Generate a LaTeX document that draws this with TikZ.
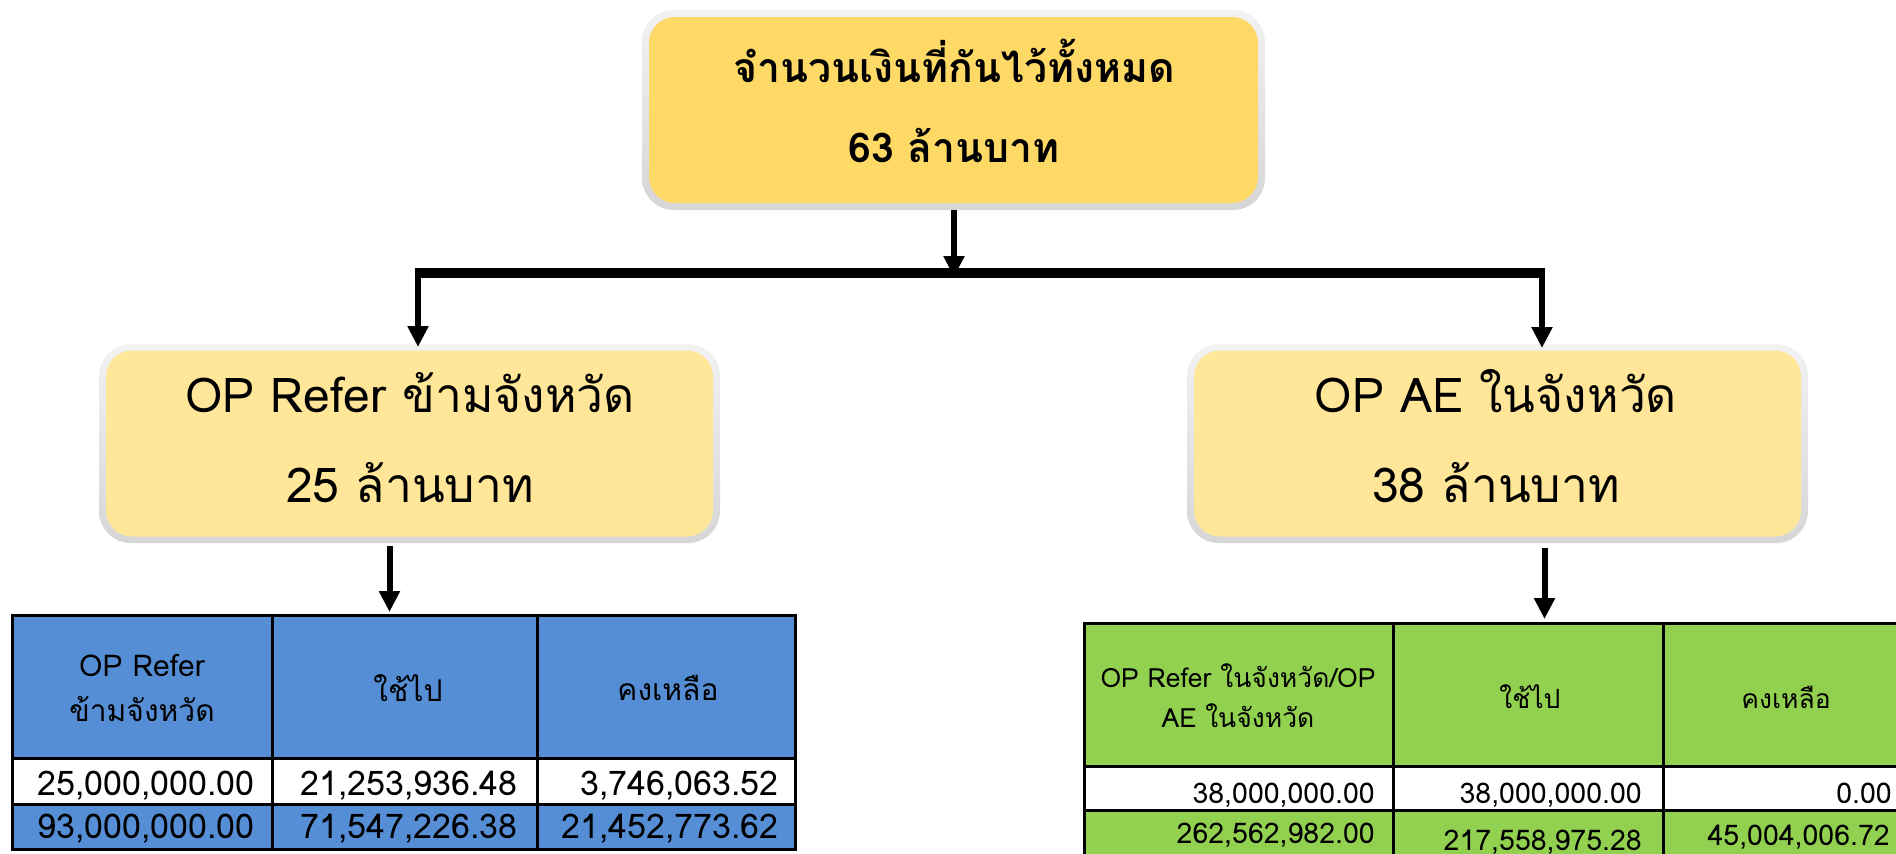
\documentclass[tikz,border=0pt]{standalone}
\usepackage{fontspec}
\setmainfont[Script=Thai]{Loma}
\usetikzlibrary{arrows.meta}
\definecolor{goldA}{HTML}{FFD966}
\definecolor{goldB}{HTML}{FFE699}
\definecolor{tblue}{HTML}{558ED5}
\definecolor{tgreen}{HTML}{92D050}
\definecolor{glowT}{HTML}{F2F2F2}
\definecolor{glowB}{HTML}{D6D6D6}
\tikzset{
  glowbox/.style={rounded corners=32pt, inner sep=0pt, outer sep=0pt, top color=glowT, bottom color=glowB},
  fillbox/.style={rounded corners=26pt, inner sep=0pt, outer sep=0pt},
  arr/.style={line width=6pt, -{Triangle[width=20pt,length=21pt]}},
  bus/.style={line width=10pt},
  grid/.style={line width=3pt, line cap=rect},
  bigtxt/.style={anchor=base, inner sep=0pt, font=\fontsize{48}{52}\selectfont},
  toptxt/.style={anchor=base, inner sep=0pt, font=\bfseries\fontsize{41}{44}\selectfont},
  lhead/.style={align=center, inner sep=0pt, font=\fontsize{30}{45}\selectfont},
  rhead/.style={align=center, inner sep=0pt, font=\fontsize{26.5}{40}\selectfont},
  lnum/.style={anchor=base east, inner sep=0pt, font=\fontsize{34}{36}\selectfont},
  rnum/.style={anchor=base east, inner sep=0pt, font=\fontsize{28.5}{32}\selectfont},
}
\begin{document}
\begin{tikzpicture}[x=1pt,y=-1pt]
\useasboundingbox (0,0) rectangle (1896,854);
\fill[white] (0,0) rectangle (1896,854);
% boxes
\node[glowbox, minimum width=623pt, minimum height=200pt] (top) at (953.5,110) {};
\node[fillbox, fill=goldA, minimum width=609pt, minimum height=186pt] (topin) at (top.center) {};
\node[glowbox, minimum width=621pt, minimum height=199pt] (lbox) at (409.5,443.5) {};
\node[fillbox, fill=goldB, minimum width=607pt, minimum height=186pt] (lboxin) at (lbox.center) {};
\node[glowbox, minimum width=621pt, minimum height=199pt] (rbox) at (1497.5,443.5) {};
\node[fillbox, fill=goldB, minimum width=607pt, minimum height=186pt] (rboxin) at (rbox.center) {};
\node[toptxt] (t1) at (954,82) {จำนวนเงินที่กันไว้ทั้งหมด};
\node[toptxt] (t2) at (954,162) {63 ล้านบาท};
\node[bigtxt] (l1) at (410,412) {OP Refer ข้ามจังหวัด};
\node[bigtxt] (l2) at (410,502) {25 ล้านบาท};
\node[bigtxt] (r1) at (1496,412) {OP AE ในจังหวัด};
\node[bigtxt] (r2) at (1496,502) {38 ล้านบาท};
% bus
\coordinate (busL) at (415,273);
\coordinate (busR) at (1545,273);
\coordinate (busM) at (954,277);
\draw[bus] (busL) -- (busR);
\draw[arr] (top.south -| busM) -- (busM);
\draw[arr] (418,268) -- (418,347);
\draw[arr] (1542,268) -- (1542,348);
% left table
\fill[tblue] (12,615) rectangle (795,758);
\fill[white] (12,758) rectangle (795,804);
\fill[tblue] (12,804) rectangle (795,849);
\draw[grid] (12,615) rectangle (795,849);
\draw[grid] (12,758) -- (795,758) (12,804) -- (795,804);
\draw[grid] (272,615) -- (272,849) (537,615) -- (537,849);
\node[lhead] (lh1) at (142,688) {OP Refer\\ข้ามจังหวัด};
\node[lhead] (lh2) at (408,688) {ใช้ไป};
\node[lhead] (lh3) at (668,688) {คงเหลือ};
\node[lnum] (la1) at (255,795) {25,000,000.00};
\node[lnum] (la2) at (518,795) {21,253,936.48};
\node[lnum] (la3) at (779,795) {3,746,063.52};
\node[lnum] (lb1) at (255,838) {93,000,000.00};
\node[lnum] (lb2) at (518,838) {71,547,226.38};
\node[lnum] (lb3) at (779,838) {21,452,773.62};
% right table
\fill[tgreen] (1084,623) rectangle (1910,766);
\fill[white] (1084,766) rectangle (1910,810);
\fill[tgreen] (1084,810) rectangle (1910,870);
\draw[grid] (1084,870) -- (1084,623) -- (1910,623);
\draw[grid] (1084,766) -- (1910,766) (1084,810) -- (1910,810);
\draw[grid] (1393,623) -- (1393,870) (1663,623) -- (1663,870);
\node[rhead] (rh1) at (1238,696) {OP Refer ในจังหวัด/OP\\AE ในจังหวัด};
\node[rhead] (rh2) at (1530,697) {ใช้ไป};
\node[rhead] (rh3) at (1786,697) {คงเหลือ};
\node[rnum] (ra1) at (1375,803) {38,000,000.00};
\node[rnum] (ra2) at (1642,803) {38,000,000.00};
\node[rnum] (ra3) at (1892,803) {0.00};
\node[rnum] (rb1) at (1375,843) {262,562,982.00};
\node[rnum] (rb2) at (1642,850) {217,558,975.28};
\node[rnum] (rb3) at (1890,845) {45,004,006.72};
% arrows to tables
\draw[arr] ([xshift=-20pt,yshift=-3pt]lbox.south) -- ([xshift=-20pt]lbox.south |- 0,612);
\draw[arr] ([xshift=47pt,yshift=-5pt]rbox.south) -- ([xshift=47pt]rbox.south |- 0,619);
\end{tikzpicture}
\end{document}
